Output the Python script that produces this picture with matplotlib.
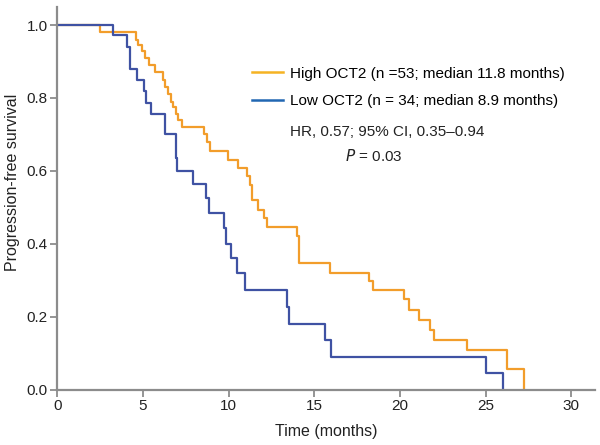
import numpy as np
import matplotlib
matplotlib.use("Agg")
import matplotlib.pyplot as plt
from matplotlib.lines import Line2D

plt.rcParams['font.family'] = ['Liberation Sans', 'DejaVu Sans']

# Kaplan-Meier steps: (time in months, survival after the step)
high_t = [0, 2.49, 4.59, 4.73, 4.92, 5.12, 5.37, 5.70, 6.15, 6.29, 6.48, 6.62, 6.77,
          6.93, 7.06, 7.26, 8.57, 8.74, 8.92, 9.97, 10.56, 11.06, 11.22, 11.36, 11.74,
          12.08, 12.23, 13.99, 14.08, 15.94, 18.18, 18.43, 20.22, 20.51, 21.10, 21.74,
          21.98, 23.93, 26.27, 27.24]
high_s = [1.0, 0.98, 0.96, 0.945, 0.93, 0.91, 0.89, 0.87, 0.85, 0.83, 0.81, 0.79, 0.775,
          0.755, 0.74, 0.72, 0.70, 0.68, 0.655, 0.63, 0.607, 0.586, 0.56, 0.52, 0.493,
          0.47, 0.446, 0.42, 0.347, 0.321, 0.297, 0.272, 0.247, 0.219, 0.19, 0.164,
          0.135, 0.108, 0.055, 0.0]

low_t = [0, 3.26, 4.08, 4.24, 4.65, 5.06, 5.18, 5.45, 6.29, 6.93, 7.00, 7.94, 8.68,
         8.86, 9.74, 9.85, 10.13, 10.48, 10.96, 13.42, 13.54, 15.64, 15.98, 25.00, 26.05]
low_s = [1.0, 0.973, 0.94, 0.88, 0.85, 0.82, 0.786, 0.756, 0.70, 0.636, 0.60, 0.565, 0.526,
         0.485, 0.444, 0.40, 0.36, 0.32, 0.272, 0.227, 0.18, 0.137, 0.09, 0.044, 0.0]

x_ticks = [0, 5, 10, 15, 20, 25, 30]
y_ticks = [0.0, 0.2, 0.4, 0.6, 0.8, 1.0]

high_label = "High OCT2 (n =53; median 11.8 months)"
low_label = "Low OCT2 (n = 34; median 8.9 months)"
hr_text = "HR, 0.57; 95% CI, 0.35\u20130.94"

c_high = "#F29D2B"
c_low = "#3F52A3"
axis_grey = "#8C8C8C"
txt = "#222222"

fig = plt.figure(figsize=(6, 4.45), dpi=100)
ax = fig.add_axes([0.0958, 0.1247, 0.896, 0.86])

ax.step(high_t, high_s, where='post', color=c_high, lw=1.6)
ax.step(low_t, low_s, where='post', color=c_low, lw=1.6)

ax.set_xlim(0, 31.4)
ax.set_ylim(0, 1.05)
ax.set_xticks(x_ticks)
ax.set_yticks(y_ticks)
ax.set_yticklabels([f"{v:.1f}" for v in y_ticks])

for side in ['top', 'right']:
    ax.spines[side].set_visible(False)
for side in ['left', 'bottom']:
    ax.spines[side].set_color(axis_grey)
    ax.spines[side].set_linewidth(1.6)
ax.tick_params(axis='both', colors=axis_grey, labelcolor=txt, labelsize=11,
               length=5, width=1.3, pad=2)

ax.set_xlabel("Time (months)", fontsize=11.5, color=txt, labelpad=8)
ax.set_ylabel("Progression-free survival", fontsize=11.5, color=txt)
ax.yaxis.set_label_coords(-0.07, 0.54)

handles = [Line2D([], [], color="#F5B323", lw=1.8),
           Line2D([], [], color="#2167B2", lw=1.8)]
ax.legend(handles, [high_label, low_label], loc='upper left',
          bbox_to_anchor=(0.362, 0.844), frameon=False, fontsize=11,
          handlelength=2.03, handletextpad=0.45, labelspacing=0.88,
          borderpad=0, borderaxespad=0)

ax.text(0.4326, 0.674, hr_text, transform=ax.transAxes, fontsize=11,
        va='center', ha='left', color=txt)
ax.text(0.535, 0.61, "$\\it{P}$ = 0.03", transform=ax.transAxes, fontsize=11,
        va='center', ha='left', color=txt)

fig.savefig("out.png", dpi=100)
